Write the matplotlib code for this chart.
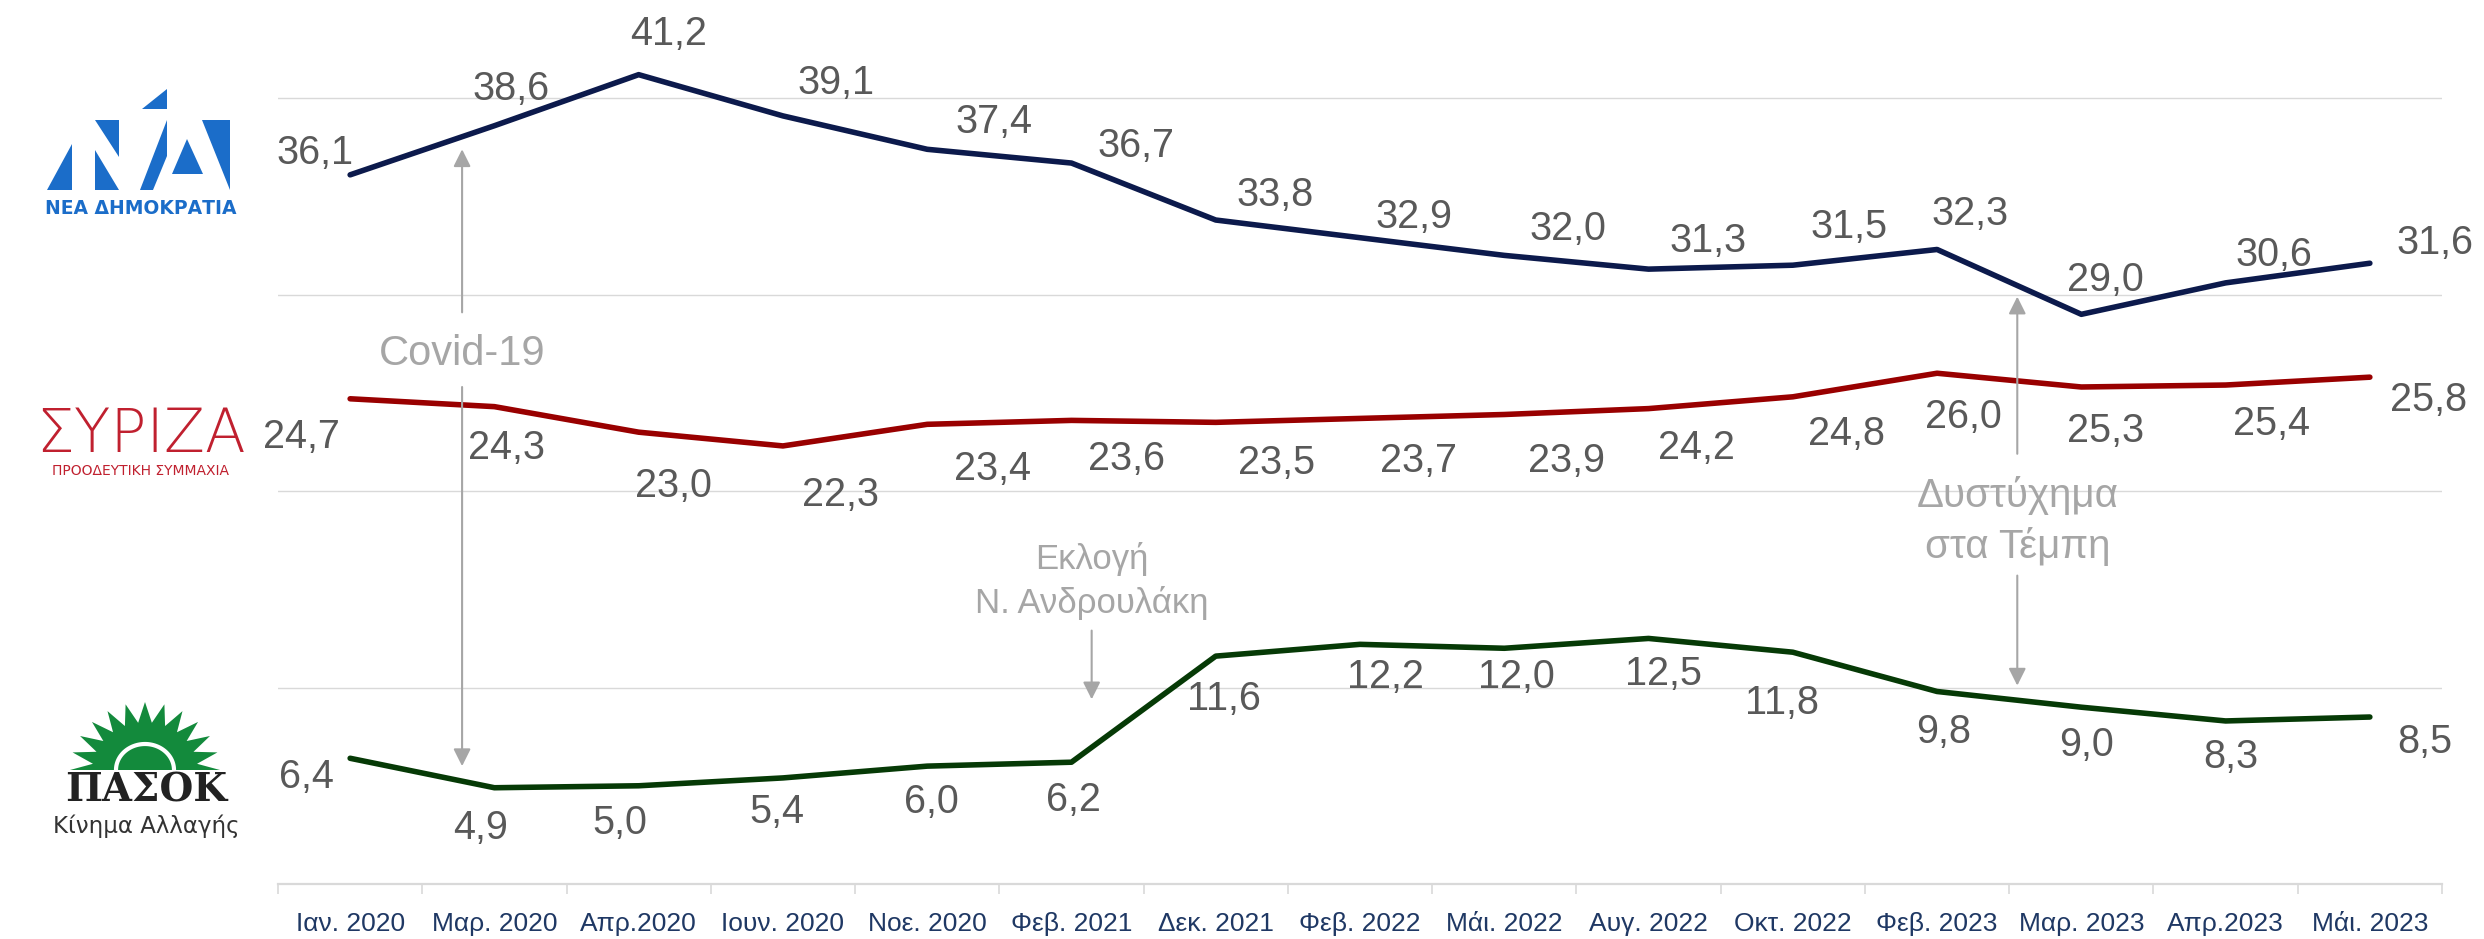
import matplotlib
matplotlib.use("Agg")
import matplotlib.pyplot as plt
from matplotlib.patches import Polygon
import numpy as np

# δεδομένα δημοσκόπησης
months = ['Ιαν. 2020', 'Μαρ. 2020', 'Απρ.2020', 'Ιουν. 2020', 'Νοε. 2020', 'Φεβ. 2021',
          'Δεκ. 2021', 'Φεβ. 2022', 'Μάι. 2022', 'Αυγ. 2022', 'Οκτ. 2022', 'Φεβ. 2023',
          'Μαρ. 2023', 'Απρ.2023', 'Μάι. 2023']
nd = [36.1, 38.6, 41.2, 39.1, 37.4, 36.7, 33.8, 32.9, 32.0, 31.3, 31.5, 32.3, 29.0, 30.6, 31.6]
syriza = [24.7, 24.3, 23.0, 22.3, 23.4, 23.6, 23.5, 23.7, 23.9, 24.2, 24.8, 26.0, 25.3, 25.4, 25.8]
pasok = [6.4, 4.9, 5.0, 5.4, 6.0, 6.2, 11.6, 12.2, 12.0, 12.5, 11.8, 9.8, 9.0, 8.3, 8.5]

# θέσεις ετικετών (pixels από το σημείο)
nd_off = [(-35, 26), (17, 41), (30, 45), (53, 37), (67, 31), (65, 21), (59, 29), (54, 25),
          (64, 30), (59, 32), (56, 42), (33, 39), (24, 38), (48, 32), (65, 24)]
sy_off = [(-49, -34), (12, -37), (35, -50), (58, -45), (65, -41), (55, -35), (61, -37), (59, -39),
          (62, -43), (48, -35), (54, -33), (26, -40), (24, -40), (46, -35), (59, -19)]
pa_off = [(-44, -15), (-14, -36), (-19, -33), (-6, -30), (4, -32), (2, -34), (8, -39), (25, -29),
          (12, -25), (15, -32), (-11, -47), (7, -37), (5, -34), (5, -32), (55, -21)]

plt.rcParams['font.family'] = ['Liberation Sans', 'DejaVu Sans']

fig = plt.figure(figsize=(24.84, 9.39), dpi=100)
ax = fig.add_axes([278 / 2484, 55 / 939, 2164 / 2484, 884 / 939])
x = np.arange(len(months))

colors = ['#0c1a4c', '#990000', '#063a06']
for vals, c in zip([nd, syriza, pasok], colors):
    ax.plot(x, vals, color=c, lw=4, solid_capstyle='round', solid_joinstyle='round', zorder=3)

for vals, offs in zip([nd, syriza, pasok], [nd_off, sy_off, pa_off]):
    for i, (v, o) in enumerate(zip(vals, offs)):
        ax.annotate(f'{v:.1f}'.replace('.', ','), (i, v), xytext=o, textcoords='offset pixels',
                    ha='center', va='center_baseline', fontsize=28.5, color='#595959', zorder=4)

ax.set_xlim(-0.5, 14.5)
ax.set_ylim(0, 45)
ax.set_yticks([10, 20, 30, 40])
ax.tick_params(axis='y', length=0, labelleft=False)
ax.grid(axis='y', color='#d9d9d9', lw=1.0)
ax.set_axisbelow(True)
for s in ['top', 'right', 'left']:
    ax.spines[s].set_visible(False)
ax.spines['bottom'].set_color('#d9d9d9')
ax.spines['bottom'].set_linewidth(1.6)

ax.set_xticks(x)
ax.set_xticklabels(months, fontsize=19, color='#1f3864')
ax.set_xticks(np.arange(-0.5, 15, 1), minor=True)
ax.tick_params(axis='x', which='major', length=0, pad=20)
ax.tick_params(axis='x', which='minor', length=7, width=1.2, color='#d9d9d9')

# σχόλια με βέλη
gray = '#a6a6a6'
arrow = dict(arrowstyle='-|>', color=gray, lw=1.5, mutation_scale=26, shrinkA=0, shrinkB=0)

ax.annotate('', xy=(0.776, 37.4), xytext=(0.776, 29.1), arrowprops=arrow)
ax.annotate('', xy=(0.776, 6.0), xytext=(0.776, 25.3), arrowprops=arrow)
ax.text(0.776, 27.2, 'Covid-19', ha='center', va='center_baseline', fontsize=30, color=gray)

ax.annotate('', xy=(5.14, 9.4), xytext=(5.14, 12.9), arrowprops=arrow)
ax.text(5.14, 16.7, 'Εκλογή', ha='center', va='center_baseline', fontsize=25, color=gray)
ax.text(5.14, 14.5, 'Ν. Ανδρουλάκη', ha='center', va='center_baseline', fontsize=25, color=gray)

ax.annotate('', xy=(11.556, 29.9), xytext=(11.556, 21.9), arrowprops=arrow)
ax.annotate('', xy=(11.556, 10.1), xytext=(11.556, 15.7), arrowprops=arrow)
ax.text(11.556, 20.0, 'Δυστύχημα', ha='center', va='center_baseline', fontsize=29, color=gray)
ax.text(11.556, 17.4, 'στα Τέμπη', ha='center', va='center_baseline', fontsize=29, color=gray)

# λογότυπα κομμάτων (σχηματικά, σε pixels του σχήματος)
lax = fig.add_axes([0, 0, 1, 1], zorder=-1)
lax.set_xlim(0, 2484)
lax.set_ylim(939, 0)
lax.axis('off')

nd_blue = '#1b6dc9'
nd_shapes = [
    [(47, 190), (72, 144), (72, 190)],
    [(95, 120), (119, 120), (119, 157)],
    [(95, 150), (95, 190), (119, 190)],
    [(142, 109), (167, 89), (167, 109)],
    [(140, 190), (167, 120), (167, 156), (153, 190)],
    [(172, 174), (187, 139), (203, 174)],
    [(202, 120), (230, 120), (230, 190)],
]
for pts in nd_shapes:
    lax.add_patch(Polygon(pts, closed=True, color=nd_blue, lw=0))
lax.text(141, 208, 'ΝΕΑ ΔΗΜΟΚΡΑΤΙΑ', ha='center', va='center', fontsize=13.5,
         fontweight='bold', color=nd_blue, family='DejaVu Sans')

lax.text(141, 429, 'ΣΥΡΙΖΑ', ha='center', va='center_baseline', fontsize=43, color='#c0202f',
         family='DejaVu Sans', fontweight='light')
lax.text(141, 471, 'ΠΡΟΟΔΕΥΤΙΚΗ ΣΥΜΜΑΧΙΑ', ha='center', va='center', fontsize=10,
         color='#c0202f', family='DejaVu Sans')

# ήλιος ΠΑΣΟΚ
cx, cy, a, b = 145, 770, 75, 68
n = 13
ang = np.linspace(0, np.pi, 2 * n - 1)
rr = np.where(np.arange(2 * n - 1) % 2 == 0, 1.0, 0.7)
sun = list(zip(cx + a * rr * np.cos(ang), cy - b * rr * np.sin(ang)))
lax.add_patch(Polygon(sun, closed=True, color='#138a3c', lw=0))
t = np.linspace(0, np.pi, 60)
lax.plot(cx + 29 * np.cos(t), cy - 26 * np.sin(t), color='white', lw=3)
lax.plot([cx - a, cx + a], [cy + 2, cy + 2], color='white', lw=2)
lax.text(146, 791, 'ΠΑΣΟΚ', ha='center', va='center', fontsize=28, fontweight='bold',
         color='#222222', family='DejaVu Serif')
lax.text(146, 826, 'Κίνημα Αλλαγής', ha='center', va='center', fontsize=16.5, color='#333333',
         family='DejaVu Sans')

fig.savefig('out.png', dpi=100, facecolor='white')
